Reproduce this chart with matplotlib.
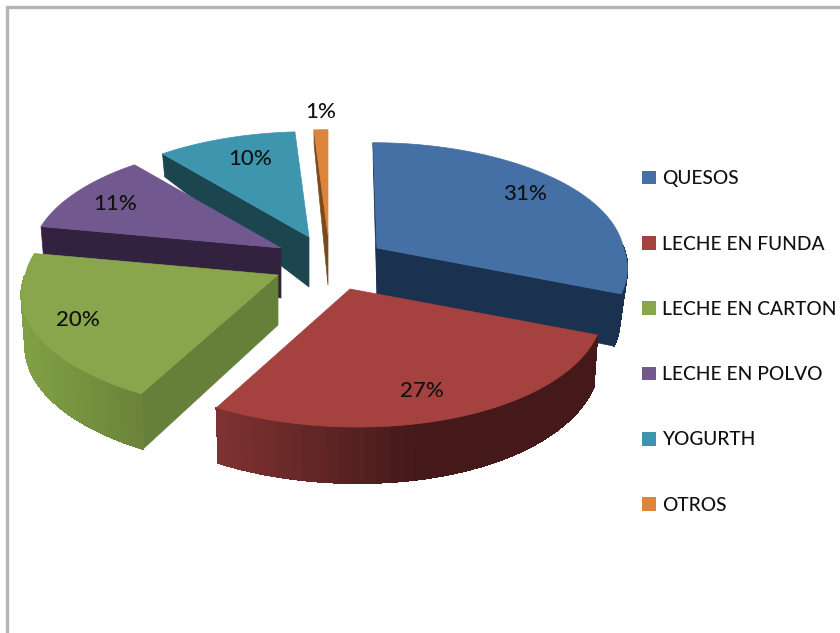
import matplotlib
matplotlib.use("Agg")
import matplotlib.pyplot as plt
from matplotlib.patches import Polygon, Patch
from matplotlib.colors import to_rgb
import numpy as np

plt.rcParams['font.family'] = ['Lato', 'DejaVu Sans']

categories = ["QUESOS", "LECHE EN FUNDA", "LECHE EN CARTON", "LECHE EN POLVO", "YOGURTH", "OTROS"]
values = [31, 27, 20, 11, 10, 1]

top_colors = ['#4470A6', '#A5423F', '#89A64C', '#71598F', '#3E96AE', '#DD843C']
face_colors = ['#1B3150', '#4A1A17', '#66803A', '#33223F', '#1D4550', '#7A4A1C']
# rim colour on the left end and the right end of a slice
rim_left = ['#1B3150', '#7C3230', '#80A045', '#33223F', '#1D4550', '#7A4A1C']
rim_right = ['#1B3150', '#45191A', '#6A8239', '#33223F', '#1D4550', '#7A4A1C']

# where the tip of each exploded slice sits, in pixels
apex_x = [377, 350, 278, 281, 309, 328]
apex_y = [248, 289, 275, 248, 237, 235]
label_x = [525, 422, 78, 115, 250, 321]
label_y = [194, 391, 320, 204, 159, 112]
draw_order = [5, 4, 3, 0, 2, 1]
# small per slice corrections of the outline
rx_scale = [0.99, 1, 1.015, 1, 1, 1]
shear = [-4, 8, 6, 0, 0, 0]
rim_shrink = [0.97, 0.985, 0.985, 0.985, 0.985, 0.985]

RX = 249
RY = 117


def rim_point(i, theta, ax0, ay0):
    # perspective: front of the disc is larger than the back
    u = np.sin(theta)
    v = -np.cos(theta)
    f = 1 + np.where(v > 0, 0.18, 0.10) * v
    return ax0 + rx_scale[i] * RX * u * f + shear[i] * np.abs(v) ** 3, ay0 + RY * v * f


def depth_at(theta):
    v = -np.cos(theta)
    return float(np.where(v > 0, 50 + 6 * v, 50 + 35 * v))


fig = plt.figure(figsize=(8.4, 6.33), dpi=100)
ax = fig.add_axes([0, 0, 1, 1])
ax.set_xlim(0, 840)
ax.set_ylim(633, 0)
ax.axis('off')

# frame of the pasted chart
ax.plot([7, 7, 840], [633, 7, 7], color='#b4b4b4', lw=2.4, solid_joinstyle='miter')

edges = np.radians(np.cumsum([0] + values) / sum(values) * 360)

for i in draw_order:
    t0, t1 = edges[i], edges[i + 1]
    ax0, ay0 = apex_x[i], apex_y[i]
    apex_depth = 50

    # flat cut faces, only the ones that look at the viewer
    for t, visible in ((t0, np.sin(t0) < 0.001), (t1, np.sin(t1) > 0)):
        if visible:
            x, y = rim_point(i, t, ax0, ay0)
            d = depth_at(t)
            x2 = ax0 + (x - ax0) * rim_shrink[i]
            ax.add_patch(Polygon([(ax0, ay0), (x, y), (x2, y + d), (ax0, ay0 + apex_depth)],
                                 closed=True, fc=face_colors[i], ec=face_colors[i], lw=0.5))

    # outer rim, in thin strips to get the shading
    th = np.linspace(t0, t1, 40)
    for a, b in zip(th[:-1], th[1:]):
        if -np.cos((a + b) / 2) <= 0:
            continue
        xa, ya = rim_point(i, a, ax0, ay0)
        xb, yb = rim_point(i, b, ax0, ay0)
        xa2 = ax0 + (xa - ax0) * rim_shrink[i]
        xb2 = ax0 + (xb - ax0) * rim_shrink[i]
        pos = np.clip((min(xa, xb) - 218) / 190 if i == 1 else (min(xa, xb) - 22) / 118, 0, 1)
        c = (1 - pos) * np.array(to_rgb(rim_left[i])) + pos * np.array(to_rgb(rim_right[i]))
        ax.add_patch(Polygon([(xa, ya), (xb, yb), (xb2, yb + depth_at(b)), (xa2, ya + depth_at(a))],
                             closed=True, fc=c, ec=c, lw=0.8, antialiased=False))

    # top surface
    px, py = rim_point(i, np.linspace(t0, t1, 120), ax0, ay0)
    pts = [(ax0, ay0)] + list(zip(px, py))
    ax.add_patch(Polygon(pts, closed=True, fc=top_colors[i], ec=top_colors[i], lw=0.5))

for v, x, y in zip(values, label_x, label_y):
    ax.text(x, y, f"{v}%", ha='center', va='center', fontsize=16, color='#111111', fontweight='medium', zorder=5)

handles = [Patch(fc=c, ec='none', label=n) for c, n in zip(top_colors, categories)]
leg = ax.legend(handles=handles, loc='center left', bbox_to_anchor=(642, 342), bbox_transform=ax.transData,
                frameon=False, fontsize=13.8, handlelength=0.73, handleheight=0.73, handletextpad=0.3,
                labelspacing=2.52, borderpad=0, borderaxespad=0, labelcolor='#111111')
for t in leg.get_texts():
    t.set_fontweight('medium')

fig.savefig("out.png", dpi=100)
